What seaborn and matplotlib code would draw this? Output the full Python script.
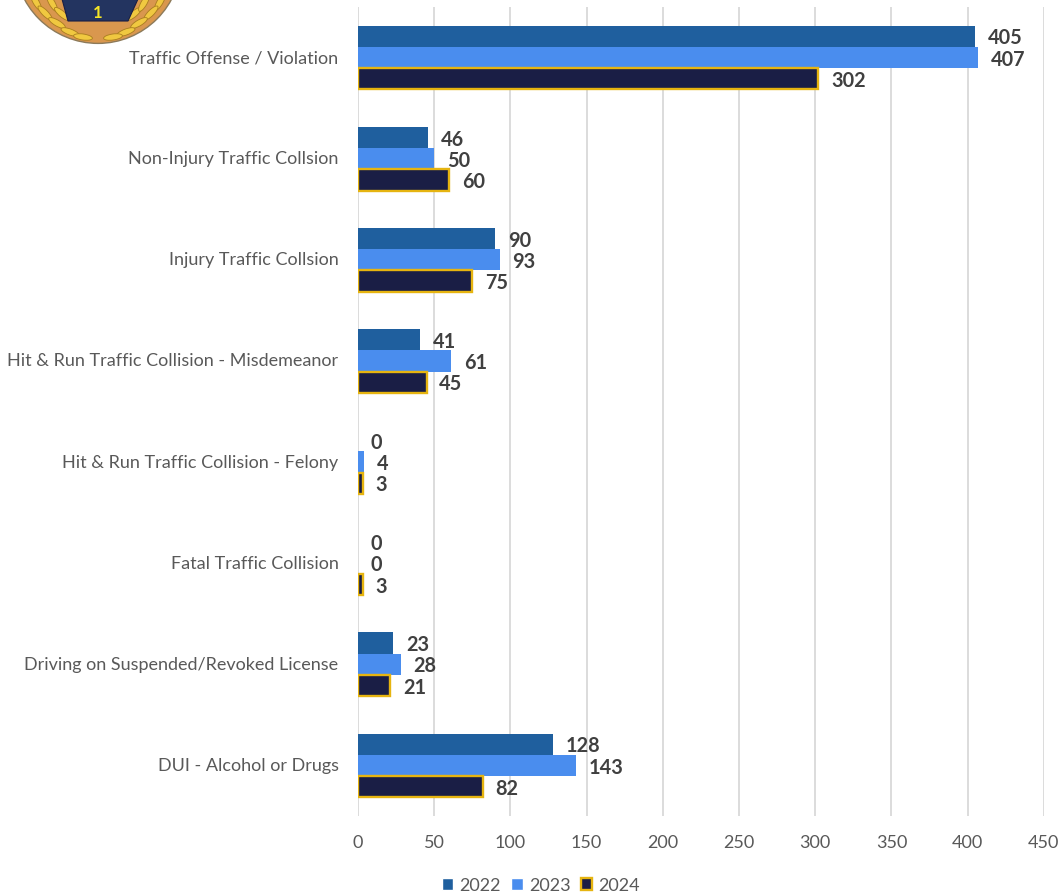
import matplotlib
matplotlib.use("Agg")
import matplotlib.pyplot as plt
from matplotlib.patches import Circle, Polygon, Ellipse, Patch
from matplotlib.transforms import ScaledTranslation
import pandas as pd
import seaborn as sns

categories = ["Traffic Offense / Violation", "Non-Injury Traffic Collsion", "Injury Traffic Collsion",
              "Hit & Run Traffic Collision - Misdemeanor", "Hit & Run Traffic Collision - Felony",
              "Fatal Traffic Collision", "Driving on Suspended/Revoked License", "DUI - Alcohol or Drugs"]
v2022 = [405, 46, 90, 41, 0, 0, 23, 128]
v2023 = [407, 50, 93, 61, 4, 0, 28, 143]
v2024 = [302, 60, 75, 45, 3, 3, 21, 82]
years = ["2022", "2023", "2024"]
colors = ["#1F5F9E", "#4A8DEE", "#1A1E45"]
gold = "#E6B410"
text_c = "#595959"

sns.set_theme(style="white")
plt.rcParams["font.family"] = ["Lato", "DejaVu Sans"]

W, H = 1059, 895
fig = plt.figure(figsize=(W / 100, H / 100), dpi=100)
ax = fig.add_axes([358 / W, 1 - 817 / H, 685.8 / W, 809 / H])

df = pd.DataFrame({
    "category": categories * 3,
    "year": sum([[y] * len(categories) for y in years], []),
    "value": v2022 + v2023 + v2024,
})
sns.barplot(data=df, y="category", x="value", hue="year", order=categories, hue_order=years,
            palette=colors, width=0.63, gap=0, dodge=True, saturation=1, legend=False, ax=ax)

for c, yr in zip(ax.containers, years):
    labels = ax.bar_label(c, padding=9.2, fontsize=14.3, fontweight="bold", color="#404040", fmt="%d")
    for t in labels:
        t.xyann = (t.xyann[0], t.xyann[1] - 0.8)
    for b in c:
        b.set_linewidth(0)
for b in ax.containers[2]:
    b.set_edgecolor(gold)
    b.set_linewidth(1.7)

ax.set_xlim(0, 450)
ax.set_ylim(7.5, -0.5)
ax.set_xticks(range(0, 451, 50))
ax.grid(axis="x", color="#D9D9D9", linewidth=1.3)
ax.set_axisbelow(True)
for s in ax.spines.values():
    s.set_visible(False)
ax.set_xlabel("")
ax.set_ylabel("")
ax.tick_params(axis="x", length=0, pad=13, labelsize=13, labelcolor=text_c)
ax.tick_params(axis="y", length=0, pad=14, labelsize=13, labelcolor=text_c)
up = ScaledTranslation(0, 2 / 72 * 72 / 100, fig.dpi_scale_trans)
for t in ax.get_yticklabels():
    t.set_transform(t.get_transform() + up)

handles = [Patch(facecolor=colors[0], label=years[0]),
           Patch(facecolor=colors[1], label=years[1]),
           Patch(facecolor=colors[2], edgecolor=gold, linewidth=1.7, label=years[2])]
fig.legend(handles=handles, loc="center", bbox_to_anchor=(541 / W, 1 - 886.5 / H), ncol=3, frameon=False,
           fontsize=13, labelcolor=text_c, handlelength=0.62, handleheight=0.62, handletextpad=0.35,
           columnspacing=0.58, borderpad=0)

# partial badge at the top-left corner, drawn in pixel coordinates
lg = fig.add_axes([0, 0, 1, 1], zorder=-1)
lg.set_xlim(0, W)
lg.set_ylim(H, 0)
lg.axis("off")
lg.add_patch(Circle((98, -39), 83.4, facecolor="#D9974E", edgecolor="#8C7A5A", linewidth=1))
for x, y, ang in [(36, 3, 60), (45, 14, 45), (57, 24, 30), (70, 33, 20), (83, 38, 8),
                  (160, 3, -60), (151, 14, -45), (139, 24, -30), (126, 33, -20), (113, 38, -8),
                  (52, 4, 60), (62, 15, 40), (134, 15, -40), (144, 4, -60)]:
    lg.add_patch(Ellipse((x, y), 19, 6, angle=ang, facecolor="#F0C840", edgecolor="#A87C20", linewidth=0.6))
lg.add_patch(Polygon([(62, 0), (138, 0), (128, 22), (68, 22)], facecolor="#233460", edgecolor="#1A1E45", linewidth=0.8))
lg.text(98, 13, "1", color="#F5E626", ha="center", va="center", fontsize=12, fontweight="bold")

fig.savefig("out.png", dpi=100)
